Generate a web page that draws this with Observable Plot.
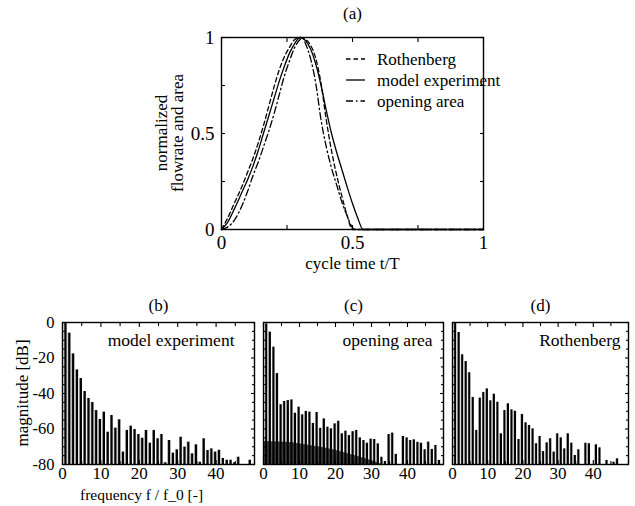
<!DOCTYPE html>
<html><head><meta charset="utf-8">
<script src="https://cdn.jsdelivr.net/npm/d3@7"></script>
<script src="https://cdn.jsdelivr.net/npm/@observablehq/plot@0.6"></script>
<style>
body{margin:0;background:#fff;}
#root{position:relative;width:635px;height:506px;overflow:hidden;font-family:"Liberation Serif","Times New Roman",serif;}
#root svg{position:absolute;}
</style></head><body>
<svg width="0" height="0" style="position:absolute"><defs>
<linearGradient id="spk" x1="0" x2="1" y1="0" y2="0">
<stop offset="0" stop-color="#ffffff"/><stop offset="0.22" stop-color="#a0a0a0"/><stop offset="0.48" stop-color="#000"/><stop offset="1" stop-color="#000"/>
</linearGradient></defs></svg>
<div id="root"></div>
<script>
// ---------- Panel (a): normalized waveforms ----------
const rothT  = [0,0.02,0.05,0.08,0.10,0.12,0.14,0.16,0.18,0.20,0.22,0.24,0.26,0.28,0.30,0.32,0.34,0.36,0.38,0.40,0.42,0.44,0.46,0.48,0.50,1.0];
const rothV  = [0,0.05,0.14,0.23,0.30,0.37,0.45,0.54,0.64,0.74,0.83,0.90,0.95,0.99,1.0,0.99,0.96,0.89,0.76,0.57,0.41,0.28,0.17,0.07,0.0,0];
const modelT = [0,0.02,0.05,0.08,0.10,0.12,0.14,0.16,0.18,0.20,0.22,0.24,0.26,0.28,0.30,0.32,0.34,0.36,0.38,0.40,0.42,0.44,0.46,0.48,0.50,0.52,0.54,1.0];
const modelV = [0,0.03,0.11,0.20,0.26,0.33,0.41,0.50,0.59,0.68,0.77,0.85,0.92,0.97,1.0,0.985,0.94,0.86,0.75,0.62,0.50,0.40,0.31,0.22,0.135,0.06,0.0,0];
const areaT  = [0,0.02,0.05,0.08,0.10,0.12,0.14,0.16,0.18,0.20,0.22,0.24,0.26,0.28,0.30,0.31,0.32,0.34,0.36,0.38,0.40,0.42,0.44,0.46,0.48,0.50,0.51,1.0];
const areaV  = [0,0.01,0.05,0.13,0.20,0.28,0.35,0.43,0.51,0.60,0.70,0.80,0.88,0.95,0.99,1.0,0.97,0.89,0.76,0.57,0.43,0.32,0.23,0.14,0.07,0.01,0,0];
const seriesNames = ["Rothenberg","model experiment","opening area"];
const seriesDash  = ["4.5,3", "none", "7,3,1.5,3"];
const aTickLabels = [0, 0.5, 1];
const aTickMarks  = [0, 0.25, 0.5, 0.75, 1];
const aTitle = ["(a)"];
const aXLabel = ["cycle time t/T"];
const aYLabel = ["normalized", "flowrate and area"];

// ---------- Panels (b)-(d): harmonic spectra ----------
const harmonics = [0,1,2,3,4,5,6,7,8,9,10,11,12,13,14,15,16,17,18,19,20,21,22,23,24,25,26,27,28,29,30,31,32,33,34,35,36,37,38,39,40,41,42,43,44,45,46,47,48,49];
const magModel = [-2,0,-6,-17.7,-26.7,-31.6,-38.9,-42.8,-45.1,-49.6,-54.6,-50.5,-61.8,-52.4,-59.5,-54.8,-73,-60.8,-58.4,-60.3,-63.1,-65.2,-60.8,-68,-60.8,-65.5,-63.1,-79,-66.5,-73.6,-71.7,-64.6,-70.2,-67.4,-74,-68.9,-78.7,-65.5,-72.1,-71.2,-73,-72,-76.6,-77.6,-77.6,-79,-75.9,-80,-80,-77.6];
const magArea  = [0,-0.8,-5.4,-13.9,-28.8,-46.3,-44.5,-44,-43.6,-51.1,-47.7,-52,-50.1,-50.5,-56.9,-50.7,-59.6,-54.3,-59,-59.9,-57.1,-55.6,-62.7,-61.2,-63.7,-61.5,-60.8,-65,-66.5,-68,-65.7,-65.9,-68.4,-75.9,-78.3,-63.1,-62.3,-74.3,-80,-64.2,-65,-66.5,-66.1,-67.5,-68,-71.7,-67.4,-71.5,-69.3,-77.7];
const magRoth  = [-1,0,-5.6,-18.2,-22,-28.3,-42.2,-60.8,-42.6,-39.4,-37.4,-44.1,-40.4,-44.9,-62.7,-49.6,-45.8,-49.2,-50,-65.9,-51.8,-56.5,-58,-59.9,-68.3,-64.2,-72.7,-67.8,-65.5,-73,-62.7,-65,-71.2,-62.7,-68,-74.9,-71.7,-80,-68,-68.3,-80,-68.9,-70.6,-80,-77.7,-80,-78.7,-76.8,-80,-80];
// dense low-level component in (c), envelope
const bandK  = [0,5,8,12,16,20,25,30,33];
const bandDb = [-67,-67.3,-67.8,-69,-70.3,-72,-74.8,-77.8,-80];
const dbFloor = -80;
const fTickLabels = [0,10,20,30,40];
const fTickMajor  = [0,10,20,30,40,50];
const fTickMinor  = [5,15,25,35,45];
const dbTickLabels = [0,-20,-40,-60,-80];
const dbTickMajor  = [0,-20,-40,-60,-80];
const dbTickMinor  = [-5,-10,-15,-25,-30,-35,-45,-50,-55,-65,-70,-75];
const panelTitles = ["(b)","(c)","(d)"];
const panelNames  = ["model experiment","opening area","Rothenberg"];
const specXLabel = ["frequency f / f_0 [-]"];
const specYLabel = ["magnitude [dB]"];

const root = document.getElementById("root");
const FONT = "'Liberation Serif','Times New Roman',serif";
const NS = "http://www.w3.org/2000/svg";
function place(el, left, top){ el.style.left = left + "px"; el.style.top = top + "px"; root.appendChild(el); }
const fmt = d => String(d);

function frameTicks(xMajor, xMinor, yMajor, yMinor, big, small){
  const o = {fill: "none", label: null, strokeWidth: 1.1};
  const m = [];
  for (const [ticks, size] of [[xMajor, big],[xMinor, small]]) {
    if (!ticks.length) continue;
    m.push(Plot.axisX({...o, ticks, anchor:"bottom", tickSize:size, dy:-size}));
    m.push(Plot.axisX({...o, ticks, anchor:"top", tickSize:size, dy:size}));
  }
  for (const [ticks, size] of [[yMajor, big],[yMinor, small]]) {
    if (!ticks.length) continue;
    m.push(Plot.axisY({...o, ticks, anchor:"left", tickSize:size, dx:size}));
    m.push(Plot.axisY({...o, ticks, anchor:"right", tickSize:size, dx:-size}));
  }
  return m;
}

// ---- panel (a)
const seriesData = [[rothT, rothV],[modelT, modelV],[areaT, areaV]];
const aMarks = seriesData.map(([ts, vs], i) =>
  Plot.line(ts.map((t, j) => ({t, v: vs[j]})), {x:"t", y:"v", stroke:"#000", strokeWidth:1.3, curve:"monotone-x",
    strokeDasharray: seriesDash[i] === "none" ? null : seriesDash[i]}));
const plotA = Plot.plot({
  width: 635, height: 275,
  marginLeft: 221, marginRight: 152, marginTop: 37, marginBottom: 46,
  x: {domain:[0,1], axis:null}, y: {domain:[0,1], axis:null},
  style: {fontFamily: FONT, fontSize: "19px", color:"#000", background:"transparent", overflow:"visible"},
  marks: [
    ...aMarks,
    Plot.frame({stroke:"#000", strokeWidth:1.4}),
    ...frameTicks(aTickMarks, [], aTickMarks, [], 4, 3),
    Plot.axisX({ticks:aTickLabels, anchor:"bottom", tickSize:0, tickPadding:6, tickFormat:fmt, label:null}),
    Plot.axisY({ticks:aTickLabels, anchor:"left", tickSize:0, tickPadding:7, tickFormat:fmt, label:null}),
    Plot.text(aTitle, {text:d=>d, frameAnchor:"top", dy:-24, lineAnchor:"middle", fontSize:17}),
    Plot.text(aXLabel, {text:d=>d, frameAnchor:"bottom", dy:34, lineAnchor:"middle", fontSize:17})
  ]
});
place(plotA, 0, 0);

// overlay svg: legend of (a) and rotated axis titles
const over = document.createElementNS(NS, "svg");
over.setAttribute("width", 635); over.setAttribute("height", 506);
over.style.pointerEvents = "none";
function addText(parent, str, x, y, size, rotate, anchor){
  const tx = document.createElementNS(NS, "text");
  tx.setAttribute("font-family", FONT); tx.setAttribute("font-size", size);
  tx.setAttribute("dy", "0.35em");
  tx.setAttribute("text-anchor", anchor || "middle");
  tx.setAttribute("transform", `translate(${x},${y})` + (rotate ? ` rotate(${rotate})` : ""));
  tx.textContent = str;
  parent.appendChild(tx);
}
seriesNames.forEach((name, i) => {
  const y = 59 + i * 21;
  const ln = document.createElementNS(NS, "line");
  ln.setAttribute("x1", 346); ln.setAttribute("x2", 365); ln.setAttribute("y1", y); ln.setAttribute("y2", y);
  ln.setAttribute("stroke", "#000"); ln.setAttribute("stroke-width", 1.3);
  if (seriesDash[i] !== "none") ln.setAttribute("stroke-dasharray", seriesDash[i]);
  over.appendChild(ln);
  addText(over, name, 377, y, 17, 0, "start");
});
aYLabel.forEach((s, i) => addText(over, s, 161 + i * 16, 133, 17, -90));
addText(over, specYLabel[0], 22, 393, 17, -90);

// ---- spectra panels
const specs = [magModel, magArea, magRoth];
const layout = [
  {left:0,   width:258, ml:62, mr:4, nameDx:-20},
  {left:258, width:187, ml:5,  mr:2, nameDx:-11},
  {left:445, width:190, ml:7,  mr:7, nameDx:-8}
];
specs.forEach((mag, p) => {
  const L = layout[p];
  const rows = harmonics.map((k, i) => ({k, v: mag[i]}));
  const marks = [];
  marks.push(Plot.rectY(rows, {x1: d => d.k - 0.66, x2: d => d.k + 0.2, y1: dbFloor, y2: "v", fill: "url(#spk)", clip: true}));
  if (p === 1) {
    marks.push(Plot.areaY(bandK.map((k, i) => ({k, v: bandDb[i]})), {x:"k", y1:dbFloor, y2:"v", fill:"#000", fillOpacity:0.72, clip:true}));
  }
  marks.push(Plot.frame({stroke:"#000", strokeWidth:1.4}));
  marks.push(...frameTicks(fTickMajor, fTickMinor, dbTickMajor, dbTickMinor, 4, 3));
  marks.push(Plot.axisX({ticks:fTickLabels, anchor:"bottom", tickSize:0, tickPadding:2, tickFormat:fmt, label:null}));
  if (p === 0) {
    marks.push(Plot.axisY({ticks:dbTickLabels, anchor:"left", tickSize:0, tickPadding:8, tickFormat:fmt, label:null, fontSize:16.5}));
    marks.push(Plot.text(specXLabel, {text:d=>d, frameAnchor:"bottom", dy:31, dx:-17, lineAnchor:"middle", fontSize:15.5}));
  }
  marks.push(Plot.text([panelTitles[p]], {text:d=>d, frameAnchor:"top", dy:-17, lineAnchor:"middle", fontSize:17}));
  marks.push(Plot.text([panelNames[p]], {text:d=>d, frameAnchor:"top-right", textAnchor:"end", dx:L.nameDx, dy:18, lineAnchor:"middle", fontSize:17.5}));
  const svg = Plot.plot({
    width: L.width, height: 216,
    marginLeft: L.ml, marginRight: L.mr, marginTop: 32, marginBottom: 42,
    x: {domain:[0,50], axis:null}, y: {domain:[-80,0], axis:null},
    style: {fontFamily: FONT, fontSize: "17px", color:"#000", background:"transparent", overflow:"visible"},
    marks
  });
  place(svg, L.left, 290);
});
root.appendChild(over);
</script>
</body></html>
